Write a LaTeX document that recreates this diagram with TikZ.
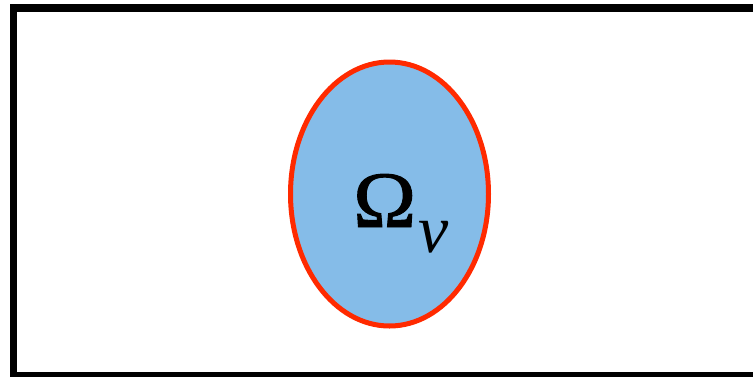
\documentclass[tikz,border=0pt]{standalone}
\usepackage{fontspec}
\setmainfont{Liberation Serif}
\newfontfamily\omfont[FakeBold=1.2,FakeStretch=1.06]{Liberation Serif}
\usetikzlibrary{shapes.geometric}
\definecolor{regionblue}{HTML}{85BCE8}
\definecolor{rimred}{HTML}{FF2A00}
\tikzset{
  frame/.style={draw=black, line width=7.5pt},
  region/.style={ellipse, draw=rimred, fill=regionblue, line width=5pt, inner sep=0pt,
    minimum width=198pt, minimum height=264pt},
  label/.style={inner sep=0pt, font=\fontsize{80}{80}\selectfont}
}
\begin{document}
\begin{tikzpicture}[x=1pt,y=-1pt]
\useasboundingbox (0,0) rectangle (753,376);
\fill[white] (0,0) rectangle (753,376);
\draw[frame] (13.5,8) rectangle (765,375.5);
\node[region] (omega) at (389.5,194) {};
\node[label, anchor=base west] (sym) at (353,227) {{\omfont Ω}\kern2pt\raisebox{-25pt}{\fontsize{68}{68}\selectfont\itshape ν}};
\end{tikzpicture}
\end{document}
